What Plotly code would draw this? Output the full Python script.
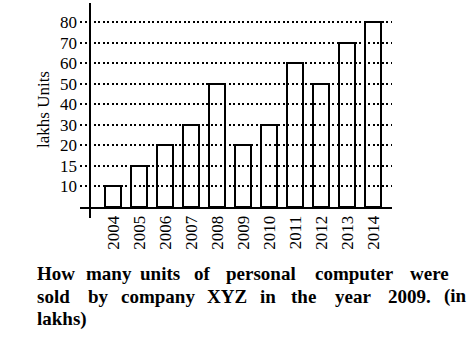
import plotly.graph_objects as go

# ---- data ----
years = [2004, 2005, 2006, 2007, 2008, 2009, 2010, 2011, 2012, 2013, 2014]
units = [10, 15, 20, 30, 50, 20, 30, 60, 50, 70, 80]
y_tick_labels = [10, 15, 20, 30, 40, 50, 60, 70, 80]
y_title = "lakhs Units"
caption_lines = [
    "How many units of personal computer were",
    "sold by company XYZ in the year 2009. (in",
    "lakhs)",
]

# The original chart uses an evenly spaced (non-linear) value axis:
# each labelled value sits one step above the previous one.
levels = [y_tick_labels.index(v) + 1 for v in units]
tick_levels = list(range(1, len(y_tick_labels) + 1))

W, H = 470, 351
L, R, T, B = 80, 392, 3, 207  # plot area in pixels
PW, PH = R - L, B - T


def px_x(px):
    return (px - L) / PW


def px_y(py):
    return (B - py) / PH


FONT = "Liberation Serif, Times New Roman, Times, serif"

fig = go.Figure()
fig.add_trace(go.Bar(
    x=years,
    y=levels,
    customdata=units,
    width=0.6,
    marker=dict(color="rgba(255,255,255,0)", line=dict(color="black", width=2)),
    hovertemplate="%{x}: %{customdata}<extra></extra>",
))

fig.update_layout(
    width=W, height=H,
    margin=dict(l=L, r=W - R, t=T, b=H - B),
    paper_bgcolor="white", plot_bgcolor="white",
    showlegend=False,
    font=dict(family=FONT, size=17, color="black"),
    bargap=0,
    xaxis=dict(
        range=[2004 - 33 / 26, 2004 + 279 / 26],
        tickvals=years,
        ticktext=[str(y) for y in years],
        tickangle=-90,
        showgrid=False,
        zeroline=False,
        showline=True, linecolor="black", linewidth=2,
        ticks="",
        tickfont=dict(family=FONT, size=17),
    ),
    yaxis=dict(
        range=[0, 9.924],
        tickvals=tick_levels,
        ticktext=[str(v) for v in y_tick_labels],
        showgrid=True, gridcolor="black", gridwidth=2, griddash="2px,2.5px",
        zeroline=False,
        showline=False,
        ticks="",
        ticklabelstandoff=2,
        tickfont=dict(family=FONT, size=17),
    ),
)

# vertical axis line (crosses below the baseline, as in the original)
fig.add_shape(type="line", xref="paper", yref="paper",
              x0=px_x(90), x1=px_x(90), y0=px_y(218), y1=1,
              line=dict(color="black", width=2))

# y title
fig.add_annotation(text=y_title, xref="paper", yref="paper",
                   x=px_x(43), y=px_y(110), textangle=-90,
                   showarrow=False, xanchor="center", yanchor="middle",
                   font=dict(family=FONT, size=17))

# caption, justified: words placed individually
word_starts = [
    [35, 84, 138, 192, 224, 313, 408],
    [35, 86, 119, 205, 258, 289, 333, 386, 442],
    [35],
]
line_mid = [273, 296, 319]
for line, starts, ym in zip(caption_lines, word_starts, line_mid):
    for word, xs in zip(line.split(" "), starts):
        fig.add_annotation(text="<b>" + word + "</b>", xref="paper", yref="paper",
                           x=px_x(xs), y=px_y(ym), showarrow=False,
                           xanchor="left", yanchor="middle",
                           font=dict(family=FONT, size=19, color="black"))

fig.write_html("out.html")
